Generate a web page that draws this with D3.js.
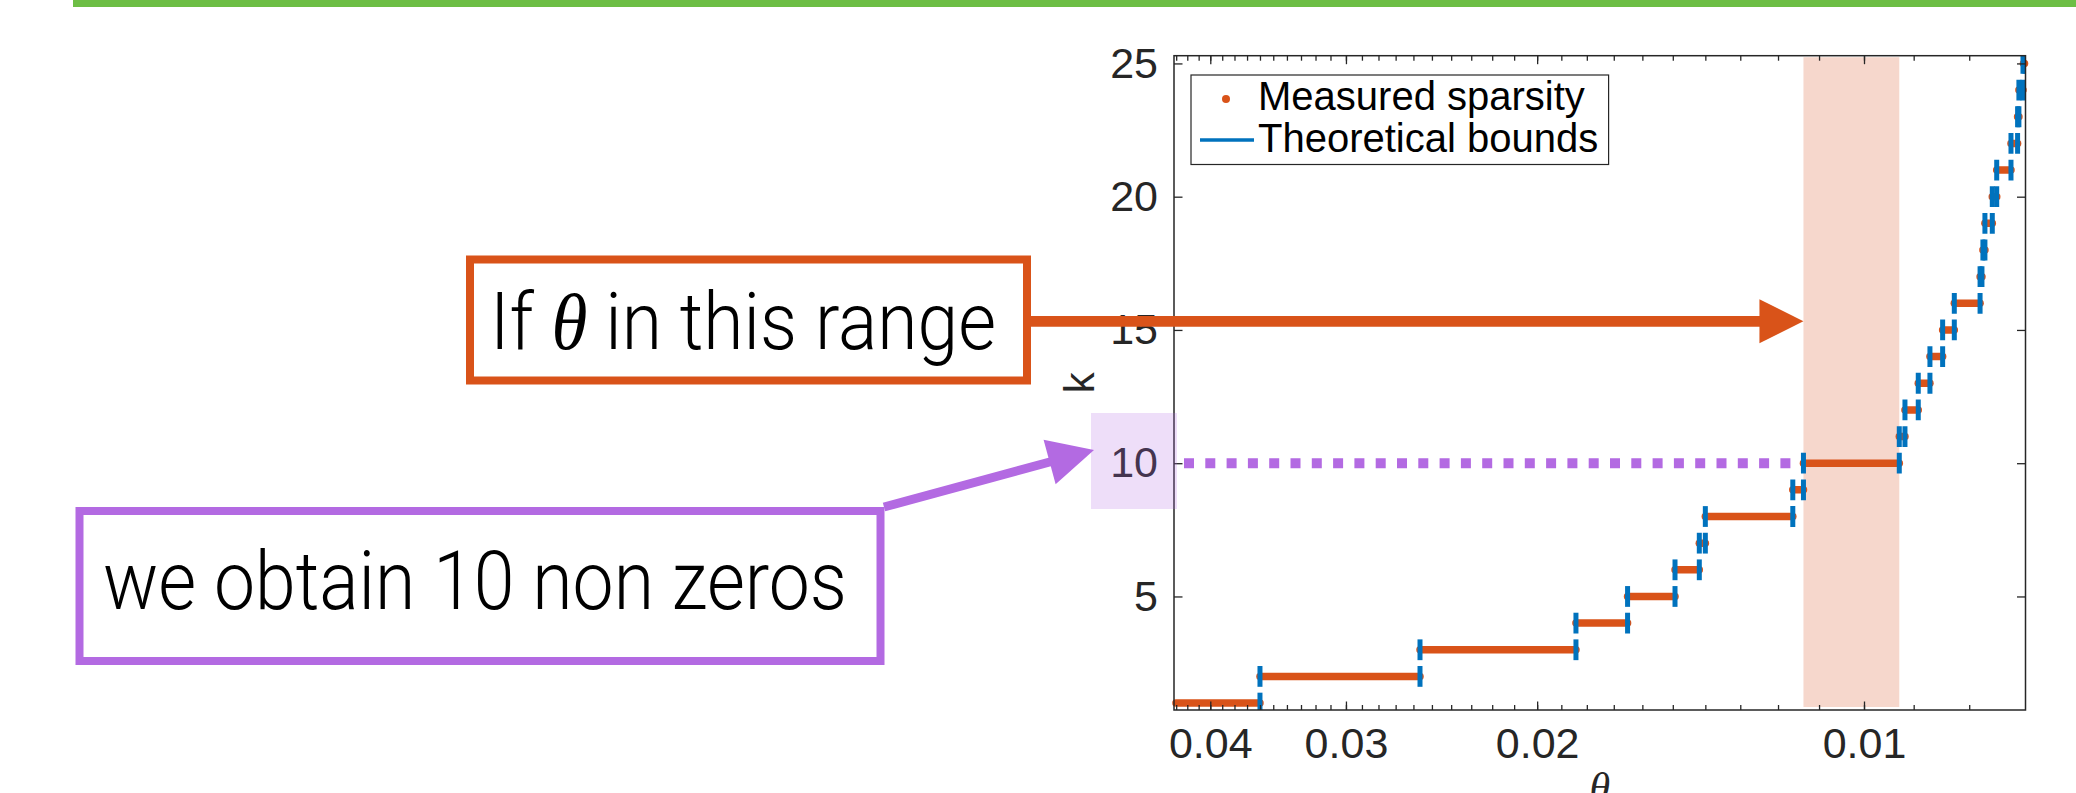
<!DOCTYPE html>
<html>
<head>
<meta charset="utf-8">
<script src="https://cdn.jsdelivr.net/npm/d3@7"></script>
<style>
  body { margin: 0; background: #fff; }
  svg { display: block; }
</style>
</head>
<body>
<div id="chart"></div>
<script>
const width = 2076;
const height = 793;

// sparsity level k and the theta interval of each step
const kValues = [1, 2, 3, 4, 5, 6, 7, 8, 9, 10, 11, 12, 13, 14, 15, 16, 17, 18, 19, 20, 21, 22, 23, 24, 25];
const boundStart = [0.05, 0.0360, 0.02564, 0.01842, 0.01651, 0.01493, 0.01418, 0.01400, 0.01163, 0.01137,
  0.009279, 0.009168, 0.008913, 0.008695, 0.008464, 0.008257, 0.007818, 0.007771, 0.007738, 0.007618,
  0.007547, 0.007322, 0.007220, 0.007200, 0.007138];
const boundEnd = [0.0360, 0.02564, 0.01842, 0.01651, 0.01493, 0.01418, 0.01400, 0.01163, 0.01137, 0.009279,
  0.009168, 0.008913, 0.008695, 0.008464, 0.008257, 0.007818, 0.007787, 0.007738, 0.007618, 0.007547,
  0.007322, 0.007220, 0.007200, 0.007138, 0.007108];
const measuredStart = [0.04302, 0.0360, 0.02564, 0.01842, 0.01651, 0.01493, 0.01418, 0.01400, 0.01163, 0.01137,
  0.009279, 0.009168, 0.008913, 0.008695, 0.008464, 0.008257, 0.007818, 0.007771, 0.007738, 0.007618,
  0.007547, 0.007322, 0.007220, 0.007200, 0.00713];
const measuredEnd = [0.0360, 0.02564, 0.01842, 0.01651, 0.01493, 0.01418, 0.01400, 0.01163, 0.01137, 0.009279,
  0.009168, 0.008913, 0.008695, 0.008464, 0.008257, 0.007818, 0.007787, 0.007738, 0.007618, 0.007547,
  0.007322, 0.007220, 0.007200, 0.007138, 0.007115];

const xTickValues = [0.04, 0.03, 0.02, 0.01];
const xTickLabels = ["0.04", "0.03", "0.02", "0.01"];
const xMinorTicks = d3.range(8, 44).map(d => d / 1000);
const yTickValues = [5, 10, 15, 20, 25];
const legendLabels = ["Measured sparsity", "Theoretical bounds"];

const highlightRange = [0.01137, 0.009279];
const highlightK = 10;

const orange = "#D95319";
const blue = "#0072BD";
const purple = "#B36AE2";
const axisColor = "#262626";
const plot = { left: 1174, right: 2025.5, top: 55.7, bottom: 710 };

const x = d3.scaleLog().domain([0.0432, 0.0071]).range([plot.left, plot.right]);
const y = d3.scaleLinear().domain([0.74, 25.29]).range([plot.bottom, plot.top]);

const svg = d3.select("#chart").append("svg")
  .attr("width", width)
  .attr("height", height)
  .style("background", "#ffffff");

svg.append("defs").append("clipPath").attr("id", "plotClip")
  .append("rect")
  .attr("x", plot.left).attr("y", plot.top)
  .attr("width", plot.right - plot.left).attr("height", plot.bottom - plot.top);

// green slide rule at the top
svg.append("rect")
  .attr("x", 73).attr("y", 0).attr("width", width - 73).attr("height", 7)
  .attr("fill", "#6DBE45");

// shaded theta range
svg.append("rect")
  .attr("x", x(highlightRange[0]))
  .attr("y", plot.top + 1.5)
  .attr("width", x(highlightRange[1]) - x(highlightRange[0]))
  .attr("height", plot.bottom - plot.top - 4.5)
  .attr("fill", "#F6D7CC");

// measured sparsity steps
svg.append("g")
  .selectAll("line")
  .data(kValues)
  .join("line")
  .attr("x1", (d, i) => x(measuredStart[i]))
  .attr("x2", (d, i) => x(measuredEnd[i]))
  .attr("y1", d => y(d))
  .attr("y2", d => y(d))
  .attr("stroke", orange)
  .attr("stroke-width", 7.5)
  .attr("stroke-linecap", "round");

// theoretical bounds, a bar at each end of a step
const bars = kValues.flatMap((k, i) => [
  { k: k, theta: boundStart[i] },
  { k: k, theta: boundEnd[i] },
]);

svg.append("g")
  .attr("clip-path", "url(#plotClip)")
  .selectAll("line")
  .data(bars)
  .join("line")
  .attr("x1", d => x(d.theta))
  .attr("x2", d => x(d.theta))
  .attr("y1", d => y(d.k - 0.39))
  .attr("y2", d => y(d.k + 0.39))
  .attr("stroke", blue)
  .attr("stroke-width", 5);

function styleAxis(g) {
  g.select(".domain").remove();
  g.attr("font-size", 43).attr("font-family", "Liberation Sans, Arial, sans-serif");
  g.selectAll("line").attr("stroke", axisColor).attr("stroke-width", 1.3);
  g.selectAll("text").attr("fill", axisColor);
}

// minor ticks
svg.append("g")
  .attr("transform", `translate(0,${plot.bottom})`)
  .call(d3.axisBottom(x).tickValues(xMinorTicks).tickSize(-5).tickFormat(""))
  .call(styleAxis);
svg.append("g")
  .attr("transform", `translate(0,${plot.top})`)
  .call(d3.axisTop(x).tickValues(xMinorTicks).tickSize(-5).tickFormat(""))
  .call(styleAxis);

// major ticks
svg.append("g")
  .attr("transform", `translate(0,${plot.bottom})`)
  .call(d3.axisBottom(x).tickValues(xTickValues).tickFormat((d, i) => xTickLabels[i])
    .tickSizeInner(-8.5).tickSizeOuter(0).tickPadding(17.5))
  .call(styleAxis);
svg.append("g")
  .attr("transform", `translate(0,${plot.top})`)
  .call(d3.axisTop(x).tickValues(xTickValues).tickSize(-8.5).tickFormat(""))
  .call(styleAxis);
svg.append("g")
  .attr("transform", `translate(${plot.left},0)`)
  .call(d3.axisLeft(y).tickValues(yTickValues).tickSizeInner(-8.5).tickSizeOuter(0).tickPadding(16))
  .call(styleAxis);
svg.append("g")
  .attr("transform", `translate(${plot.right},0)`)
  .call(d3.axisRight(y).tickValues(yTickValues).tickSize(-8.5).tickFormat(""))
  .call(styleAxis);

// axes box
svg.append("rect")
  .attr("x", plot.left).attr("y", plot.top)
  .attr("width", plot.right - plot.left).attr("height", plot.bottom - plot.top)
  .attr("fill", "none")
  .attr("stroke", axisColor)
  .attr("stroke-width", 1.5);

// axis labels
svg.append("text")
  .attr("transform", `translate(1094,${(plot.top + plot.bottom) / 2}) rotate(-90)`)
  .attr("text-anchor", "middle")
  .attr("font-size", 42)
  .attr("font-family", "Liberation Sans, Arial, sans-serif")
  .attr("fill", axisColor)
  .text("k");

svg.append("text")
  .attr("x", (plot.left + plot.right) / 2)
  .attr("y", 802)
  .attr("text-anchor", "middle")
  .attr("font-size", 42)
  .attr("font-style", "italic")
  .attr("font-family", "Liberation Serif, serif")
  .attr("fill", axisColor)
  .text("θ");

// legend
const legend = svg.append("g");
legend.append("rect")
  .attr("x", 1191).attr("y", 75).attr("width", 417.6).attr("height", 89.5)
  .attr("fill", "#ffffff")
  .attr("stroke", axisColor)
  .attr("stroke-width", 1.2);
legend.append("circle")
  .attr("cx", 1226).attr("cy", 99).attr("r", 4)
  .attr("fill", orange);
legend.append("line")
  .attr("x1", 1200).attr("x2", 1254).attr("y1", 140).attr("y2", 140)
  .attr("stroke", blue).attr("stroke-width", 3.5);
legend.selectAll("text")
  .data(legendLabels)
  .join("text")
  .attr("x", 1258)
  .attr("y", (d, i) => 110 + i * 42)
  .attr("font-size", 40)
  .attr("font-family", "Liberation Sans, Arial, sans-serif")
  .attr("fill", "#000000")
  .text(d => d);

// dotted level line at k = 10
svg.append("line")
  .attr("x1", plot.left + 10)
  .attr("x2", x(highlightRange[0]) - 13)
  .attr("y1", y(highlightK))
  .attr("y2", y(highlightK))
  .attr("stroke", purple)
  .attr("stroke-width", 10)
  .attr("stroke-dasharray", "10 11.3");

// translucent mark on the "10" tick label
svg.append("rect")
  .attr("x", 1091).attr("y", 413).attr("width", 86).attr("height", 96)
  .attr("fill", purple)
  .attr("fill-opacity", 0.22);

function drawArrow(x1, y1, x2, y2, color, lineWidth, headLength, headHalf) {
  const len = Math.hypot(x2 - x1, y2 - y1);
  const ux = (x2 - x1) / len;
  const uy = (y2 - y1) / len;
  const bx = x2 - ux * headLength;
  const by = y2 - uy * headLength;
  svg.append("line")
    .attr("x1", x1).attr("y1", y1)
    .attr("x2", bx + ux * 2).attr("y2", by + uy * 2)
    .attr("stroke", color)
    .attr("stroke-width", lineWidth);
  svg.append("path")
    .attr("d", `M${bx - uy * headHalf},${by + ux * headHalf}L${x2},${y2}L${bx + uy * headHalf},${by - ux * headHalf}Z`)
    .attr("fill", color);
}

// light condensed look of the slide text: size by cap height, squeeze to width
function fitText(sel, size, targetWidth, centerY) {
  sel.attr("font-size", size)
    .attr("y", centerY + size * 0.355)
    .attr("textLength", targetWidth)
    .attr("lengthAdjust", "spacingAndGlyphs");
}

// annotation: theta range
svg.append("rect")
  .attr("x", 470).attr("y", 259.5).attr("width", 557).attr("height", 121)
  .attr("fill", "#ffffff")
  .attr("stroke", orange)
  .attr("stroke-width", 8);

const rangeText = svg.append("text")
  .attr("x", 490)
  .attr("font-family", "Roboto, Liberation Sans, sans-serif")
  .attr("font-weight", 300)
  .attr("fill", "#000000");
rangeText.append("tspan").text("If ");
rangeText.append("tspan")
  .attr("font-family", "Liberation Serif, serif")
  .attr("font-style", "italic")
  .attr("font-weight", 400)
  .text("θ");
rangeText.append("tspan").text(" in this range");
fitText(rangeText, 80, 506, 321);

drawArrow(1031, 321.3, x(highlightRange[0]), 321.3, orange, 10.7, 44, 22);

// annotation: resulting sparsity
svg.append("rect")
  .attr("x", 79.5).attr("y", 511).attr("width", 801).attr("height", 150)
  .attr("fill", "#ffffff")
  .attr("stroke", purple)
  .attr("stroke-width", 8);

const resultText = svg.append("text")
  .attr("x", 103)
  .attr("font-family", "Roboto, Liberation Sans, sans-serif")
  .attr("font-weight", 300)
  .attr("fill", "#000000")
  .text("we obtain 10 non zeros");
fitText(resultText, 82, 744, 580);

drawArrow(884, 507, 1094, 450, purple, 9, 46, 23);
</script>
</body>
</html>
